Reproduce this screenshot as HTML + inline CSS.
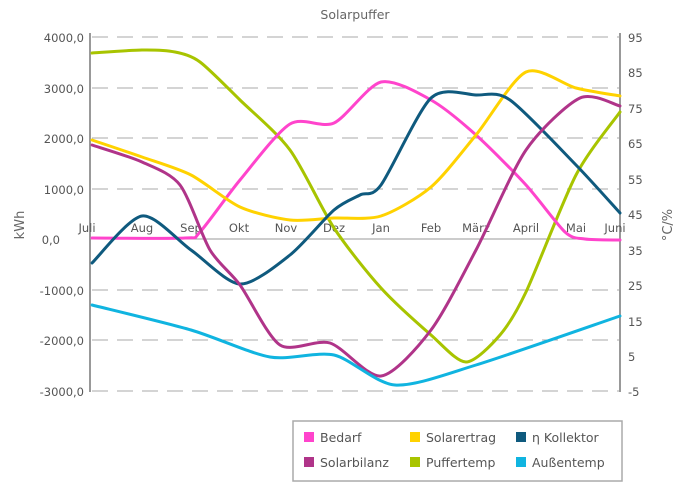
<!DOCTYPE html>
<html><head><meta charset="utf-8"><style>
body{margin:0;background:#fff;}
svg{display:block;font-family:"DejaVu Sans","Liberation Sans",sans-serif;}
</style></head><body>
<svg id="s" width="689" height="500" viewBox="0 0 689 500">
<text x="355" y="19" font-size="12.5" fill="#666" text-anchor="middle">Solarpuffer</text>
<g stroke="#aaa" stroke-width="1" stroke-dasharray="16,9">
<line x1="92" y1="37" x2="620" y2="37"/><line x1="92" y1="88" x2="620" y2="88"/>
<line x1="92" y1="138" x2="620" y2="138"/><line x1="92" y1="189" x2="620" y2="189"/>
<line x1="92" y1="290" x2="620" y2="290"/><line x1="92" y1="340" x2="620" y2="340"/>
<line x1="92" y1="391" x2="620" y2="391"/>
</g>
<line x1="90" y1="33" x2="90" y2="392" stroke="#999" stroke-width="2"/>
<line x1="620" y1="33" x2="620" y2="392" stroke="#999" stroke-width="2"/>
<line x1="90" y1="239" x2="620" y2="239" stroke="#999" stroke-width="1"/>
<g font-size="11.5" fill="#555" text-anchor="end">
<text x="84" y="42">4000,0</text><text x="84" y="93">3000,0</text><text x="84" y="143">2000,0</text>
<text x="84" y="194">1000,0</text><text x="60" y="244">0,0</text><text x="84" y="295">-1000,0</text>
<text x="84" y="345">-2000,0</text><text x="84" y="396">-3000,0</text>
</g>
<g font-size="11.5" fill="#555" text-anchor="start">
<text x="628" y="42">95</text><text x="628" y="77">85</text><text x="628" y="113">75</text>
<text x="628" y="148">65</text><text x="628" y="184">55</text><text x="628" y="219">45</text>
<text x="628" y="255">35</text><text x="628" y="290">25</text><text x="628" y="326">15</text>
<text x="628" y="361">5</text><text x="628" y="396">-5</text>
</g>
<text transform="translate(24,225) rotate(-90)" font-size="13" fill="#666" text-anchor="middle">kWh</text>
<text transform="translate(672,225) rotate(-90)" font-size="13" fill="#666" text-anchor="middle">°C/%</text>
<g font-size="11.5" fill="#555" text-anchor="middle">
<text x="87" y="232">Juli</text><text x="142" y="232">Aug</text><text x="191" y="232">Sep</text>
<text x="239" y="232">Okt</text><text x="286" y="232">Nov</text><text x="334" y="232">Dez</text>
<text x="381" y="232">Jan</text><text x="431" y="232">Feb</text><text x="476" y="232">März</text>
<text x="526" y="232">April</text><text x="576" y="232">Mai</text><text x="615" y="232">Juni</text>
</g>
<g id="curves" fill="none" stroke-width="3" stroke-linecap="round"></g>
<rect x="293" y="421" width="329" height="60" fill="#fff" stroke="#aaa" stroke-width="1.5"/>
<g font-size="12.5" fill="#555">
<rect x="304" y="432" width="10" height="10" fill="#ff44cc"/><text x="320" y="442">Bedarf</text>
<rect x="410" y="432" width="10" height="10" fill="#ffd200"/><text x="426" y="442">Solarertrag</text>
<rect x="516" y="432" width="10" height="10" fill="#0f5a7e"/><text x="532" y="442">η Kollektor</text>
<rect x="304" y="457" width="10" height="10" fill="#b03489"/><text x="320" y="467">Solarbilanz</text>
<rect x="410" y="457" width="10" height="10" fill="#a8c400"/><text x="426" y="467">Puffertemp</text>
<rect x="516" y="457" width="10" height="10" fill="#10b4e0"/><text x="532" y="467">Außentemp</text>
</g>
</svg>
<script>
var S={
"#a8c400":[[92,53],[142,50],[175,52],[200,62],[240,100],[290,150],[334,228],[381,288],[431,335],[466,362],[500,335],[526,292],[576,175],[620,112]],
"#ff44cc":[[92,238],[185,238],[200,232],[240,180],[290,124],[334,123],[381,82],[431,100],[476,135],[526,185],[565,232],[585,239],[620,240]],
"#ffd200":[[92,140],[142,157],[191,175],[240,207],[290,220],[334,218],[381,216],[431,187],[476,135],[526,72],[576,88],[620,96]],
"#0f5a7e":[[92,263],[142,216],[191,250],[240,284],[290,255],[334,210],[360,195],[381,185],[431,98],[476,95],[510,100],[576,165],[620,213]],
"#b03489":[[92,145],[142,162],[180,185],[210,250],[240,285],[280,345],[330,343],[381,376],[431,330],[476,250],[526,150],[580,98],[620,106]],
"#10b4e0":[[92,305],[191,330],[270,357],[334,355],[395,385],[476,365],[620,316]]
};
var g=document.getElementById("curves");
for(var c in S){var p=S[c],d="M"+p[0][0]+","+p[0][1];
for(var i=0;i<p.length-1;i++){var a=p[i-1]||p[i],b=p[i],e=p[i+1],f=p[i+2]||e,k=7.5;
d+=" C"+(b[0]+(e[0]-a[0])/k)+","+(b[1]+(e[1]-a[1])/k)+" "+(e[0]-(f[0]-b[0])/k)+","+(e[1]-(f[1]-b[1])/k)+" "+e[0]+","+e[1];}
var el=document.createElementNS("http://www.w3.org/2000/svg","path");el.setAttribute("d",d);el.setAttribute("stroke",c);g.appendChild(el);}
</script>
</body></html>
